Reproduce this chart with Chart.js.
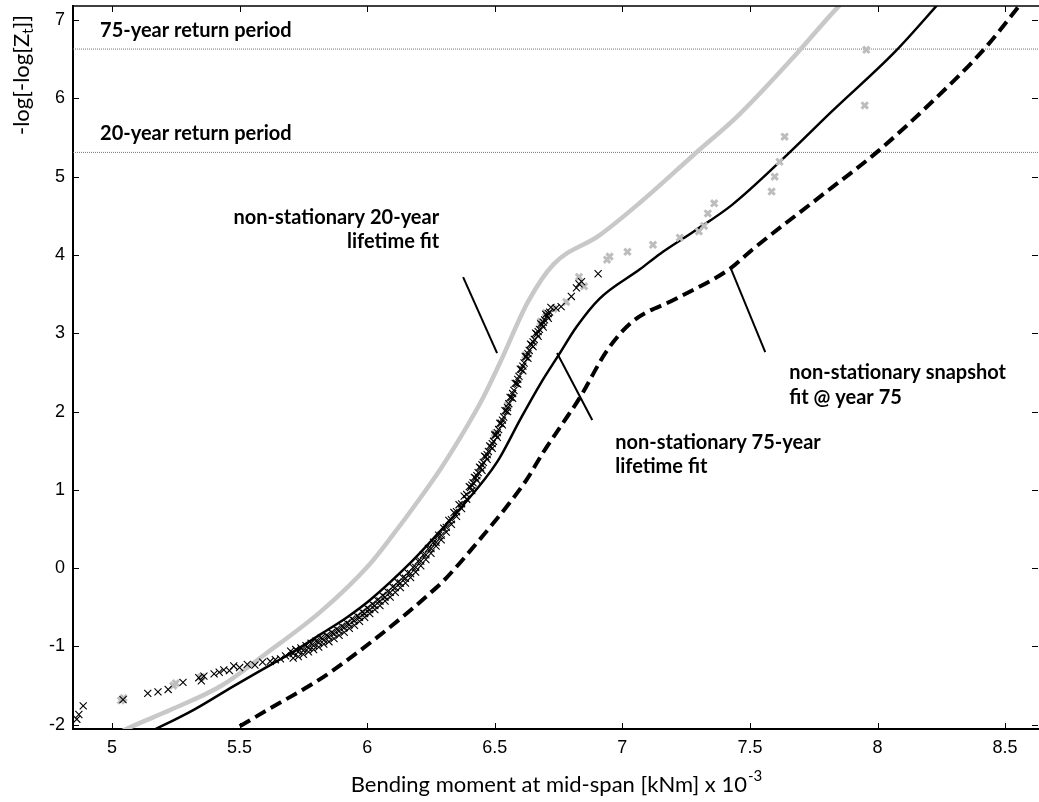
<!DOCTYPE html>
<html>
<head>
<meta charset="utf-8">
<script src="https://cdn.jsdelivr.net/npm/chart.js@4.4.0/dist/chart.umd.min.js"></script>
<style>
  html, body { margin: 0; padding: 0; background: #fff; }
  #wrap { width: 1039px; height: 802px; }
</style>
</head>
<body>
<div id="wrap"><canvas id="chart"></canvas></div>
<script>
// x = bending moment at mid-span [kNm x 1e-3], y = -log(-log(Z_t))
const xTicks = [5, 5.5, 6, 6.5, 7, 7.5, 8, 8.5]
const yTicks = [-2, -1, 0, 1, 2, 3, 4, 5, 6, 7]

// return levels (dotted lines)
const returnLevels = [6.63, 5.31]
const returnLabels = ['75-year return period', '20-year return period']

// non-stationary 20-year lifetime fit (grey)
const fit20X = [5.00, 5.035, 5.23, 5.43, 5.60, 5.82, 6.01, 6.10, 6.20, 6.29, 6.38, 6.45, 6.52, 6.63, 6.73, 6.91, 7.07, 7.28, 7.46, 7.655, 7.84, 7.90]
const fit20Y = [-2.16, -2.09, -1.81, -1.50, -1.10, -0.55, 0.05, 0.42, 0.86, 1.28, 1.75, 2.15, 2.62, 3.40, 3.88, 4.25, 4.67, 5.28, 5.80, 6.47, 7.15, 7.35]

// non-stationary 75-year lifetime fit (black solid)
const fit75X = [5.10, 5.15, 5.32, 5.48, 5.63, 5.72, 5.82, 5.92, 6.01, 6.17, 6.26, 6.37, 6.51, 6.60, 6.68, 6.75, 6.82, 6.91, 7.07, 7.15, 7.28, 7.43, 7.63, 7.82, 8.07, 8.25]
const fit75Y = [-2.17, -2.09, -1.81, -1.50, -1.22, -1.05, -0.84, -0.63, -0.41, 0.07, 0.38, 0.78, 1.36, 1.90, 2.36, 2.72, 3.08, 3.44, 3.82, 4.02, 4.30, 4.64, 5.23, 5.83, 6.60, 7.25]

// non-stationary snapshot fit @ year 75 (black dashed)
const fitSnapX = [5.44, 5.465, 5.61, 5.79, 5.856, 6.013, 6.158, 6.236, 6.30, 6.455, 6.55, 6.627, 6.69, 6.76, 6.834, 6.94, 7.04, 7.21, 7.42, 7.51, 7.785, 8.0, 8.215, 8.41, 8.555, 8.62]
const fitSnapY = [-2.14, -2.09, -1.81, -1.47, -1.33, -0.95, -0.57, -0.35, -0.16, 0.42, 0.80, 1.14, 1.48, 1.82, 2.18, 2.78, 3.15, 3.44, 3.82, 4.07, 4.77, 5.32, 5.96, 6.60, 7.18, 7.45]

// observed maxima, black crosses
const obsBlackX = [
  4.862, 4.87, 4.887, 5.043, 5.14, 5.18, 5.22, 5.278, 5.34, 5.35, 5.36, 5.40, 5.42, 5.438, 5.46, 5.477, 5.50, 5.53, 5.56, 5.59, 5.62, 5.64, 5.66, 5.68,
  5.70, 5.72, 5.74, 5.76, 5.78, 5.80, 5.82, 5.84, 5.86, 5.88, 5.90, 5.92, 5.94, 5.96, 5.98, 6.00, 6.02, 6.04, 6.06, 6.08, 6.10, 6.12, 6.14, 6.16, 6.18,
  6.20, 6.22, 6.24, 6.26, 6.28, 6.30, 6.32, 6.34, 6.36, 6.38, 6.40, 6.42, 6.44, 6.46, 6.48, 6.50, 6.52, 6.54, 6.56, 6.58, 6.60, 6.62, 6.64, 6.66, 6.68, 6.70, 6.72,
  5.71, 5.73, 5.75, 5.77, 5.79, 5.81, 5.83, 5.85, 5.87, 5.89, 5.91, 5.93, 5.95, 5.97, 5.99, 6.01, 6.03, 6.05, 6.07, 6.09, 6.11, 6.13, 6.15, 6.17, 6.19,
  6.21, 6.23, 6.25, 6.27, 6.29, 6.31, 6.33, 6.35, 6.37, 6.39, 6.41, 6.43, 6.45, 6.47, 6.49, 6.51, 6.53, 6.55, 6.57, 6.59, 6.61, 6.63, 6.65, 6.67, 6.69, 6.71,
  5.71, 5.73, 5.75, 5.77, 5.79, 5.81, 5.83, 5.85, 5.87, 5.89, 5.91, 5.93, 5.95, 5.97, 5.99, 6.01, 6.03, 6.05, 6.07, 6.09, 6.11, 6.13, 6.15, 6.17, 6.19,
  6.21, 6.23, 6.25, 6.27, 6.29, 6.31, 6.33, 6.35, 6.37, 6.39, 6.41, 6.43, 6.45, 6.47, 6.49, 6.51, 6.53, 6.55, 6.57, 6.59, 6.61, 6.63, 6.65, 6.67, 6.69, 6.71,
  6.405, 6.415, 6.425, 6.435, 6.445, 6.455, 6.465, 6.475, 6.485, 6.495, 6.505, 6.515, 6.525, 6.535, 6.545, 6.555,
  6.565, 6.575, 6.585, 6.595, 6.605, 6.615, 6.625, 6.635, 6.645, 6.655, 6.665, 6.675, 6.685, 6.695, 6.705, 6.715,
  6.74, 6.76, 6.80, 6.82, 6.83, 6.84, 6.905
]
const obsBlackY = [
  -1.93, -1.87, -1.76, -1.68, -1.60, -1.58, -1.55, -1.46, -1.40, -1.44, -1.38, -1.35, -1.33, -1.30, -1.31, -1.25, -1.27, -1.23, -1.24, -1.20, -1.19, -1.17, -1.16, -1.12,
  -1.06, -1.04, -1.02, -0.99, -0.96, -0.93, -0.89, -0.86, -0.82, -0.78, -0.74, -0.70, -0.65, -0.61, -0.56, -0.51, -0.46, -0.41, -0.35, -0.30, -0.24, -0.18, -0.12, -0.06, 0.01,
  0.09, 0.17, 0.25, 0.33, 0.42, 0.51, 0.61, 0.71, 0.81, 0.92, 1.04, 1.16, 1.29, 1.43, 1.56, 1.70, 1.85, 2.01, 2.18, 2.36, 2.54, 2.70, 2.86, 3.00, 3.12, 3.24, 3.33,
  -1.15, -1.13, -1.10, -1.07, -1.04, -1.01, -0.97, -0.94, -0.90, -0.86, -0.82, -0.77, -0.73, -0.68, -0.63, -0.58, -0.53, -0.48, -0.42, -0.37, -0.31, -0.25, -0.19, -0.12, -0.05,
  0.03, 0.11, 0.19, 0.28, 0.36, 0.46, 0.56, 0.66, 0.76, 0.88, 0.99, 1.12, 1.25, 1.39, 1.53, 1.67, 1.83, 2.00, 2.17, 2.35, 2.52, 2.68, 2.83, 2.96, 3.08, 3.19,
  -1.09, -1.07, -1.05, -1.02, -0.99, -0.95, -0.92, -0.88, -0.84, -0.80, -0.76, -0.72, -0.67, -0.63, -0.58, -0.53, -0.48, -0.42, -0.37, -0.31, -0.25, -0.19, -0.13, -0.07, 0.01,
  0.09, 0.17, 0.25, 0.33, 0.42, 0.52, 0.62, 0.72, 0.82, 0.94, 1.06, 1.18, 1.32, 1.45, 1.59, 1.73, 1.89, 2.05, 2.23, 2.41, 2.58, 2.74, 2.89, 3.02, 3.14, 3.25,
  1.03, 1.09, 1.15, 1.22, 1.28, 1.35, 1.42, 1.49, 1.55, 1.62, 1.70, 1.77, 1.85, 1.93, 2.01, 2.10,
  2.18, 2.27, 2.36, 2.45, 2.54, 2.62, 2.70, 2.78, 2.85, 2.92, 2.99, 3.05, 3.11, 3.17, 3.22, 3.27,
  3.32, 3.34, 3.47, 3.58, 3.63, 3.66, 3.76
]

// observed maxima, grey crosses
const obsGrayX = [5.035, 5.045, 5.24, 5.25, 5.35, 6.50, 6.55, 6.62, 6.68, 6.70, 6.73, 6.78, 6.83, 6.85, 6.94, 6.95, 7.02, 7.12, 7.225, 7.30, 7.32, 7.335, 7.36, 7.585, 7.597, 7.616, 7.636, 7.95, 7.956]
const obsGrayY = [-1.69, -1.66, -1.50, -1.47, -1.39, 1.72, 2.08, 2.72, 3.15, 3.26, 3.31, 3.40, 3.72, 3.60, 3.94, 3.98, 4.04, 4.13, 4.22, 4.30, 4.37, 4.53, 4.66, 4.81, 5.00, 5.19, 5.51, 5.91, 6.62]

const xMin = 4.847, xMax = 8.629
const yMin = -2.055, yMax = 7.18

const pts = (xs, ys) => xs.map((x, i) => ({ x: x, y: ys[i] }))

const annoFont = 'bold 20px Lato'
const notes = [
  { text: returnLabels[0], x: 4.953, y: 6.872, align: 'left' },
  { text: returnLabels[1], x: 4.953, y: 5.557, align: 'left' },
  { text: 'non-stationary 20-year', x: 6.282, y: 4.484, align: 'right' },
  { text: 'lifetime fit', x: 6.282, y: 4.165, align: 'right' },
  { text: 'non-stationary 75-year', x: 6.972, y: 1.610, align: 'left' },
  { text: 'lifetime fit', x: 6.972, y: 1.291, align: 'left' },
  { text: 'non-stationary snapshot', x: 7.654, y: 2.504, align: 'left' },
  { text: 'fit @ year 75', x: 7.654, y: 2.185, align: 'left' }
]
const leaders = [
  [6.376, 3.718, 6.509, 2.747],
  [6.744, 2.747, 6.882, 1.891],
  [7.423, 3.845, 7.560, 2.760]
]

const decorations = {
  id: 'decorations',
  afterDraw(chart) {
    const ctx = chart.ctx
    const a = chart.chartArea
    const sx = chart.scales.x, sy = chart.scales.y
    ctx.save()

    // leader lines
    ctx.strokeStyle = '#000'
    ctx.lineWidth = 2
    leaders.forEach(l => {
      ctx.beginPath()
      ctx.moveTo(sx.getPixelForValue(l[0]), sy.getPixelForValue(l[1]))
      ctx.lineTo(sx.getPixelForValue(l[2]), sy.getPixelForValue(l[3]))
      ctx.stroke()
    })

    // annotation text
    ctx.fillStyle = '#000'
    ctx.font = annoFont
    ctx.textBaseline = 'middle'
    notes.forEach(n => {
      ctx.textAlign = n.align
      ctx.fillText(n.text, sx.getPixelForValue(n.x), sy.getPixelForValue(n.y))
    })

    // top border
    ctx.lineWidth = 1.5
    ctx.beginPath()
    ctx.moveTo(a.left, a.top)
    ctx.lineTo(a.right + 1, a.top)
    ctx.stroke()

    // inward tick marks on all four sides
    ctx.lineWidth = 1
    const tl = 6
    xTicks.forEach(v => {
      const px = Math.round(sx.getPixelForValue(v)) + 0.5
      ctx.beginPath()
      ctx.moveTo(px, a.bottom); ctx.lineTo(px, a.bottom - tl)
      ctx.moveTo(px, a.top); ctx.lineTo(px, a.top + tl)
      ctx.stroke()
    })
    yTicks.forEach(v => {
      const py = Math.round(sy.getPixelForValue(v)) + 0.5
      ctx.beginPath()
      ctx.moveTo(a.left, py); ctx.lineTo(a.left + tl, py)
      ctx.moveTo(a.right, py); ctx.lineTo(a.right - tl, py)
      ctx.stroke()
    })

    // x axis title with superscript
    ctx.textAlign = 'left'
    ctx.textBaseline = 'alphabetic'
    const xt = 'Bending moment at mid-span [kNm] x 10'
    const xs = '-3'
    ctx.font = '22px Lato'
    const w1 = ctx.measureText(xt).width
    ctx.font = '15px Lato'
    const w2 = ctx.measureText(xs).width
    const x0 = 556 - (w1 + w2) / 2
    ctx.font = '22px Lato'
    ctx.fillText(xt, x0, 792)
    ctx.font = '15px Lato'
    ctx.fillText(xs, x0 + w1 + 1, 781)

    // y axis title with subscript
    ctx.save()
    ctx.translate(29, 75)
    ctx.rotate(-Math.PI / 2)
    const ya = '-log[-log[Z', yb = 't', yc = ']]'
    ctx.font = '22px Lato'
    const wa = ctx.measureText(ya).width, wc = ctx.measureText(yc).width
    ctx.font = '15px Lato'
    const wb = ctx.measureText(yb).width
    const y0 = -(wa + wb + wc) / 2
    ctx.font = '22px Lato'
    ctx.fillText(ya, y0, 0)
    ctx.font = '15px Lato'
    ctx.fillText(yb, y0 + wa, 4)
    ctx.font = '22px Lato'
    ctx.fillText(yc, y0 + wa + wb, 0)
    ctx.restore()

    ctx.restore()
  }
}

const ctx = document.getElementById('chart').getContext('2d')
const chart = new Chart(ctx, {
  type: 'scatter',
  data: {
    datasets: [
      {
        data: pts(obsBlackX, obsBlackY),
        pointStyle: 'crossRot', pointRadius: 5, pointBorderWidth: 1.1,
        borderColor: '#000', backgroundColor: '#000', order: 1
      },
      {
        data: pts(obsGrayX, obsGrayY),
        pointStyle: 'crossRot', pointRadius: 4.5, pointBorderWidth: 3,
        borderColor: '#bdbdbd', backgroundColor: '#bdbdbd', order: 2
      },
      {
        data: pts(fit75X, fit75Y), showLine: true, pointRadius: 0,
        borderColor: '#000', borderWidth: 2.5, cubicInterpolationMode: 'monotone', order: 3
      },
      {
        data: pts(fitSnapX, fitSnapY), showLine: true, pointRadius: 0,
        borderColor: '#000', borderWidth: 4, borderDash: [12, 6], cubicInterpolationMode: 'monotone', order: 4
      },
      {
        data: pts(fit20X, fit20Y), showLine: true, pointRadius: 0,
        borderColor: '#c8c8c8', borderWidth: 4.5, cubicInterpolationMode: 'monotone', order: 5
      },
      ...returnLevels.map(v => ({
        data: [{ x: xMin, y: v }, { x: xMax, y: v }], showLine: true, pointRadius: 0,
        borderColor: '#777', borderWidth: 1, borderDash: [1, 1], order: 6
      }))
    ]
  },
  options: {
    responsive: true,
    maintainAspectRatio: false,
    animation: false,
    layout: { autoPadding: false, padding: { top: 6, right: 1, left: 0, bottom: 0 } },
    plugins: { legend: { display: false }, tooltip: { enabled: false } },
    scales: {
      x: {
        type: 'linear', min: xMin, max: xMax,
        grid: { display: false, drawTicks: false },
        border: { display: true, color: '#000', width: 2 },
        afterBuildTicks: s => { s.ticks = xTicks.map(v => ({ value: v })) },
        afterFit: s => { s.height = 73; s.paddingLeft = 0; s.paddingRight = 0 },
        ticks: {
          color: '#000', font: { family: 'Liberation Sans', size: 18 },
          padding: 8, maxRotation: 0, autoSkip: false,
          callback: v => String(v)
        }
      },
      y: {
        type: 'linear', min: yMin, max: yMax,
        grid: { display: false, drawTicks: false },
        border: { display: true, color: '#000', width: 2 },
        afterBuildTicks: s => { s.ticks = yTicks.map(v => ({ value: v })) },
        afterFit: s => { s.width = 73; s.paddingTop = 0; s.paddingBottom = 0 },
        ticks: {
          color: '#000', font: { family: 'Liberation Sans', size: 18 },
          padding: 8, autoSkip: false,
          callback: v => String(v)
        }
      }
    }
  },
  plugins: [decorations]
})
</script>
</body>
</html>
